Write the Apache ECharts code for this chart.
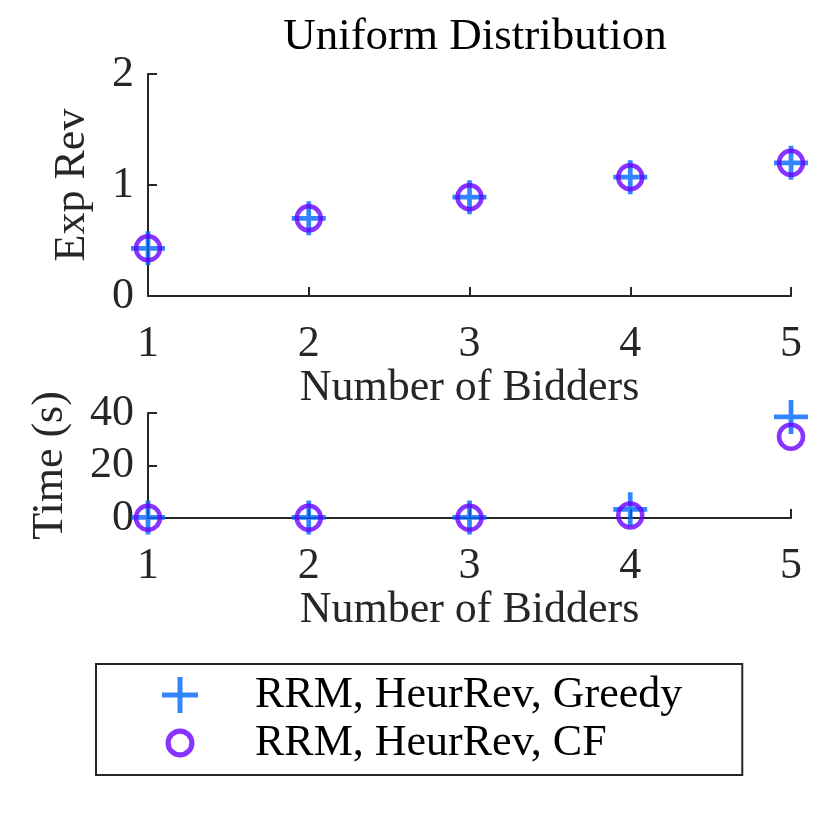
<!DOCTYPE html>
<html><head><meta charset="utf-8">
<script src="https://cdn.jsdelivr.net/npm/echarts@6/dist/echarts.min.js"></script>
<style>html,body{margin:0;padding:0;background:#fff}#c{width:830px;height:830px}</style>
</head><body><div id="c"></div>
<script>
const bidders = [1, 2, 3, 4, 5];
const revGreedy = [0.43, 0.70, 0.89, 1.07, 1.20];
const revCF = [0.43, 0.70, 0.89, 1.07, 1.20];
const timeGreedy = [0.2, 0.2, 0.2, 3.3, 38.5];
const timeCF = [0.1, 0.1, 0.1, 1.0, 31.0];
const revTicks = [0, 1, 2];
const timeTicks = [0, 20, 40];
const nameGreedy = 'RRM, HeurRev, Greedy';
const nameCF = 'RRM, HeurRev, CF';

const FONT = 'Liberation Serif';
const FS = 44;
const TXT = '#262626';
const BLUE = '#0066ff';
const PURPLE = '#6a00ff';
const plusPath = 'path://M0,15.5 L36,15.5 L36,20.5 L0,20.5 Z M15.5,0 L20.5,0 L20.5,36 L15.5,36 Z';
const ringPath = 'path://M0,0 L0.01,0 L0,0.01 Z M36,36 L35.99,36 L36,35.99 Z ' +
  'M32.5,18 A14.5,14.5 0 1 0 3.5,18 A14.5,14.5 0 1 0 32.5,18 Z ' +
  'M27.3,18 A9.3,9.3 0 1 1 8.7,18 A9.3,9.3 0 1 1 27.3,18 Z';

function xAx(gi) {
  return {
    gridIndex: gi, type: 'value', min: 1, max: 5, interval: 1,
    name: 'Number of Bidders', nameLocation: 'middle', nameGap: 66,
    nameTextStyle: {fontFamily: FONT, fontSize: FS, color: TXT},
    axisLine: {lineStyle: {color: TXT, width: 2}},
    axisTick: {inside: true, length: 9, lineStyle: {color: TXT, width: 2}},
    axisLabel: {margin: 26, fontFamily: FONT, fontSize: FS, color: TXT},
    splitLine: {show: false}
  };
}
function yAx(gi, min, max, interval, name, gap) {
  return {
    gridIndex: gi, type: 'value', min: min, max: max, interval: interval,
    name: name, nameLocation: 'middle', nameGap: gap,
    nameTextStyle: {fontFamily: FONT, fontSize: FS, color: TXT},
    axisLine: {show: true, onZero: false, lineStyle: {color: TXT, width: 2}},
    axisTick: {show: true, inside: true, length: 9, lineStyle: {color: TXT, width: 2}},
    axisLabel: {margin: 14, fontFamily: FONT, fontSize: FS, color: TXT},
    splitLine: {show: false}
  };
}
const pair = (xs, ys) => xs.map((x, i) => [x, ys[i]]);

const chart = echarts.init(document.getElementById('c'), null, {renderer: 'canvas'});
chart.setOption({
  animation: false,
  backgroundColor: '#fff',
  title: {text: 'Uniform Distribution', left: 470, top: 10, textAlign: 'center',
    textStyle: {fontFamily: FONT, fontSize: 45, fontWeight: 'normal', color: '#000'}},
  grid: [
    {left: 148, right: 39, top: 74, height: 222},
    {left: 148, right: 39, top: 413, height: 105}
  ],
  xAxis: [xAx(0), xAx(1)],
  yAxis: [yAx(0, 0, 2, 1, 'Exp Rev', 54), yAx(1, 0, 40, 20, 'Time (s)', 76)],
  legend: {
    orient: 'vertical', left: 96, top: 664,
    padding: [9, 60, 10, 66],
    itemGap: 4, itemWidth: 36, itemHeight: 36,
    borderColor: TXT, borderWidth: 2,
    textStyle: {fontFamily: FONT, fontSize: FS, color: '#000', padding: [0, 0, 0, 52]},
    data: [
      {name: nameGreedy, icon: plusPath, itemStyle: {color: BLUE, borderWidth: 0}},
      {name: nameCF, icon: ringPath, itemStyle: {color: PURPLE, borderWidth: 0}}
    ]
  },
  series: [
    {name: nameGreedy, type: 'scatter', xAxisIndex: 0, yAxisIndex: 0, clip: false,
     symbol: plusPath, symbolSize: 34, itemStyle: {color: BLUE}, data: pair(bidders, revGreedy), z: 3},
    {name: nameCF, type: 'scatter', xAxisIndex: 0, yAxisIndex: 0, clip: false,
     symbol: 'circle', symbolSize: 24, itemStyle: {color: 'rgba(0,0,0,0)', borderColor: PURPLE, borderWidth: 4.5},
     data: pair(bidders, revCF), z: 4},
    {name: nameGreedy, type: 'scatter', xAxisIndex: 1, yAxisIndex: 1, clip: false,
     symbol: plusPath, symbolSize: 34, itemStyle: {color: BLUE}, data: pair(bidders, timeGreedy), z: 3},
    {name: nameCF, type: 'scatter', xAxisIndex: 1, yAxisIndex: 1, clip: false,
     symbol: 'circle', symbolSize: 24, itemStyle: {color: 'rgba(0,0,0,0)', borderColor: PURPLE, borderWidth: 4.5},
     data: pair(bidders, timeCF), z: 4}
  ]
});
</script></body></html>
